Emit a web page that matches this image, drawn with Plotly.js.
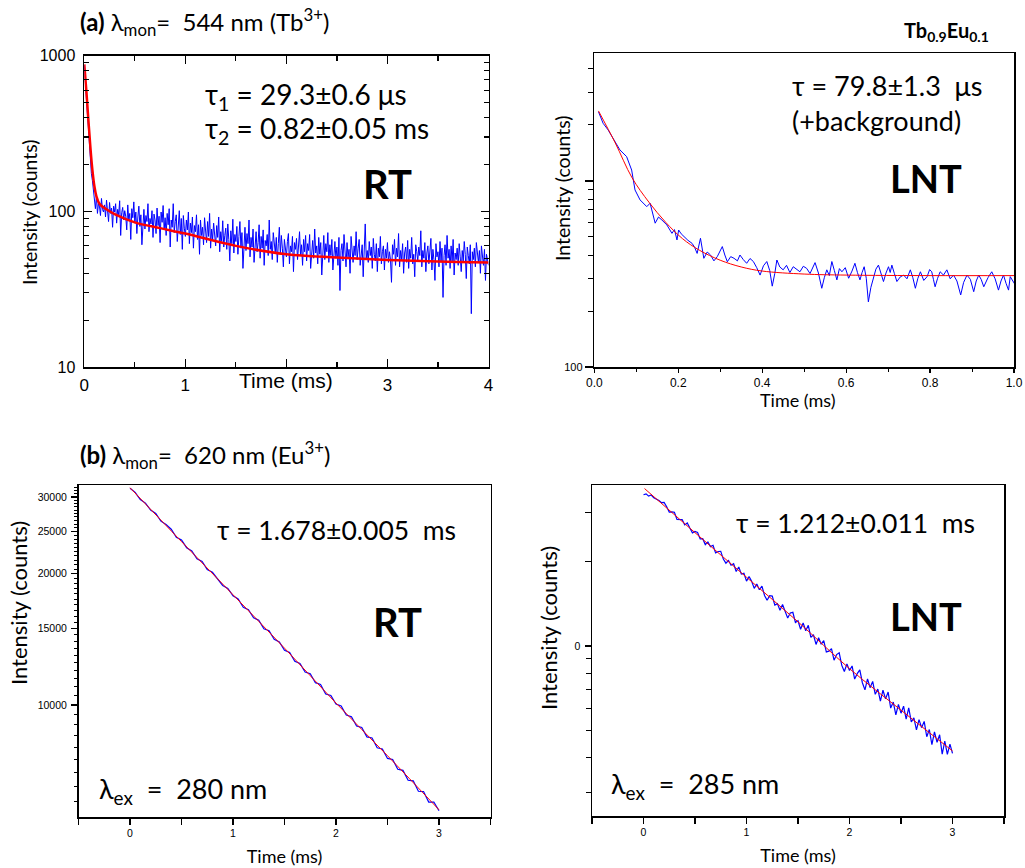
<!DOCTYPE html>
<html><head><meta charset="utf-8">
<script src="https://cdn.plot.ly/plotly-3.0.1.min.js"></script>
<style>body{margin:0;background:#fff}#chart{width:1025px;height:868px}</style>
</head><body><div id="chart"></div>
<script>
// ---------- DATA ----------
// (a) 544 nm, RT : blue decay sampled every 0.01 ms from t = 0
const A_t0 = 0, A_dt = 0.01;
const A_blue = [870,720,560,430,350,265,220,175,158,132,
118,104,126,97,112,108,94,121,103,99,
110,92,118,101,86,114,97,105,79,108,
99,112,84,103,95,117,70,98,106,88,
101,93,76,110,88,97,66,104,91,115,
84,99,72,92,108,80,95,61,89,103,
77,94,86,112,74,90,83,101,68,96,
88,72,105,81,93,63,99,85,109,76,
91,70,97,82,104,59,88,79,112,73,
86,95,64,83,101,71,90,57,94,78,
69,88,76,99,62,84,73,92,58,81,
74,95,66,82,53,88,70,79,61,91,
72,63,86,69,97,58,77,66,84,71,
60,81,68,92,55,74,64,87,59,70,
78,57,83,66,48,75,62,89,54,71,
64,80,53,69,86,58,73,43,67,79,
56,72,62,88,51,68,59,77,47,66,
74,55,63,82,50,69,58,76,45,65,
60,71,52,88,57,64,49,73,61,54,
68,47,62,79,53,70,58,44,66,59,
51,64,72,46,60,55,69,41,63,57,
67,49,58,74,52,61,45,66,55,70,
48,62,56,71,43,59,65,50,77,54,
60,46,68,53,63,39,57,70,49,62,
55,73,47,61,52,66,42,58,64,50,
59,45,68,31,56,62,48,71,53,44,
63,51,57,40,69,54,47,60,52,74,
49,58,66,45,55,61,38,57,83,50,
56,47,64,52,59,43,67,53,48,62,
41,58,51,69,46,55,60,42,57,50,
63,47,55,49,35,61,53,66,45,58,
51,72,44,56,49,62,40,54,59,47,
65,43,57,50,68,46,53,38,61,55,
48,59,52,75,44,56,50,63,41,54,
60,46,53,67,42,57,49,36,62,51,
55,44,64,48,58,28,52,61,45,70,
50,57,43,60,47,66,39,54,49,58,
45,62,51,41,56,48,64,53,37,59,
52,46,61,22,55,49,58,44,63,50,
47,56,40,60,51,45,57,36,53,48,
45];
const A_fit_t = [0,0.02,0.04,0.06,0.08,0.1,0.12,0.15,0.2,0.3,0.5,0.75,1,1.5,2,2.5,3,3.5,4];
const A_fit_v = [880,600,390,260,185,145,125,112,105,96,85,78,72,60,53,50.5,48.7,47.6,47];

// (a) LNT
const B_blue_t = [0.010,0.021,0.033,0.045,0.061,0.077,0.089,0.097,0.109,0.125,0.133,0.145,0.153,0.161,0.167,0.173,0.185,0.191,0.197,0.201,0.207,0.213,0.223,0.233,0.239,0.245,0.253,0.261,0.269,0.277,0.285,0.293,0.299,0.305,0.311,0.317,0.325,
0.333,0.341,0.347,0.355,0.363,0.371,0.379,0.387,0.395,0.403,0.411,0.418,0.424,0.430,0.435,0.442,0.450,0.458,0.466,0.474,0.482,0.490,0.498,0.506,0.514,0.520,0.526,0.534,0.542,0.548,0.554,0.560,0.566,0.572,0.578,0.584,0.590,0.598,0.606,0.614,0.621,0.627,0.633,0.638,0.643,0.648,0.653,0.659,0.665,0.671,0.677,0.683,0.689,0.695,0.701,0.705,0.709,0.715,0.721,0.729,0.737,0.745,0.753,0.759,0.765,0.771,0.777,0.785,0.793,0.799,0.804,0.808,0.812,0.818,0.824,0.832,0.840,0.848,0.856,0.864,0.873,0.880,0.888,0.896,0.904,0.910,0.916,0.922,0.928,0.938,0.947,0.955,0.963,0.969,0.975,0.981,0.987,0.991,0.997,1.003];
const B_blue_v = [2356,2042,1880,1695,1469,1352,1145,895,791,728,759,593,640,617,600,580,523,548,482,545,520,502,480,462,440,408,492,384,415,400,372,392,420,444,400,368,392,
384,372,400,378,361,383,369,342,312,350,369,330,272,318,376,345,333,352,322,346,336,325,348,339,318,341,364,320,265,302,333,310,369,330,294,338,325,342,300,328,361,322,294,322,346,300,224,268,306,336,353,318,288,320,346,322,353,318,288,305,312,298,333,302,265,300,325,292,306,334,325,296,270,300,325,312,333,298,312,290,244,285,312,296,254,290,312,295,270,302,325,298,259,290,312,282,259,306,290,276];
const B_fit_t = [0.01,0.05,0.09,0.13,0.17,0.21,0.25,0.3,0.35,0.4,0.5,0.6,0.8,1.0];
const B_fit_v = [2380,1600,1040,770,600,490,425,375,345,328,316,312,310,310];

// (b) 620 nm, RT : blue sampled every 0.05 ms from t = 0
const C_t0 = 0, C_dt = 0.05;
const C_blue = [31400,30750,29600,29050,28000,27500,26400,25950,25300,24250,23900,22950,22550,21650,21350,20450,20150,19400,18800,18500,17800,17500,16750,16550,15850,15650,14950,14800,14150,13950,13350,13200,12600,12450,11900,11800,11250,11150,10600,10520,10050,9950,9480,9400,8950,8880,8450,8400,7980,7930,7540,7500,7120,7080,6720,6700,6340,6330,5990,5990,5720];
const C_fit_t = [0,0.5,1,1.5,2,2.5,3];
const C_fit_v = [31500,23700,17900,13500,10100,7650,5750];

// (b) LNT : blue sampled every 0.025 ms from t = 0
const D_t0 = 0, D_dt = 0.025;
const D_blue = [34700,34950,34300,34600,33850,33550,33100,32500,32550,31430,
30090,30140,30040,28330,28240,28280,27080,27520,26370,25360,
25660,25450,24120,24170,23020,23530,22640,22900,21490,21750,
21770,20440,19760,20200,19440,19670,18460,19140,18060,18180,
17050,17690,17030,16060,16660,15880,16370,15150,14560,15120,
15070,14000,14170,13420,14070,13210,12580,13120,13190,12140,
12310,11480,12080,11340,11850,10740,10970,10130,10710,10150,
10460,9523,9583,9781,8896,9321,9457,8529,8108,8631,
8176,8486,7621,7966,8218,7393,6969,7625,7098,7476,
6720,7020,6360,6951,6474,6847,6004,6307,5681,6186,
5756,6096,5481,6007,5354,5537,5018,5459,5109,5380,
4741,5031,4440,4936,4527,4818,4106,4570,4101,4462,
4135];
const D_fit_t = [0.01,0.5,1.0,1.5,2.0,2.5,3.0];
const D_fit_v = [36500,25400,17600,12200,8300,5900,4220];

// tick labels
const A_xticks = [0,1,2,3,4], A_xticktext = ['0','1','','3','4'];
const A_yticks = [10,100,1000], A_yticktext = ['10','100','1000'];
const B_xticks = [0,0.2,0.4,0.6,0.8,1.0], B_xticktext = ['0.0','0.2','0.4','0.6','0.8','1.0'];
const B_yticks = [100,1000], B_yticktext = ['100',''];
const C_xticks = [0,1,2,3], C_xticktext = ['0','1','2','3'];
const C_yticks = [10000,15000,20000,25000,30000], C_yticktext = ['10000','15000','20000','25000','30000'];
const D_xticks = [0,1,2,3], D_xticktext = ['0','1','2','3'];
const D_yticks = [10000,20000,30000], D_yticktext = ['0','',''];

// ---------- BUILD ----------
const W = 1025, H = 868;
const times = (t0, dt, n) => Array.from({length:n}, (_, i) => +(t0 + i*dt).toFixed(4));
const ARIAL = '"Liberation Sans", Arial, sans-serif';
const CAL = 'Lato, "Open Sans", sans-serif';
const BLUE = '#0000ff', RED = '#ff0000';

function logMinor(lo, hi, steps){ const out=[]; for(let d=lo; d<hi; d*=10){ for(const s of steps){ const v=d*s; if(v>d && v<d*10) out.push(v);} } return out; }
function range(a,b,s){ const o=[]; for(let v=a; v<=b+1e-9; v+=s) o.push(+v.toFixed(4)); return o; }

const traces = [
  {x: times(A_t0, A_dt, A_blue.length), y: A_blue, xaxis:'x', yaxis:'y', mode:'lines', line:{color:BLUE, width:1}},
  {x: A_fit_t, y: A_fit_v, xaxis:'x', yaxis:'y', mode:'lines', line:{color:RED, width:2.5, shape:'spline'}},
  {x: B_blue_t, y: B_blue_v, xaxis:'x2', yaxis:'y2', mode:'lines', line:{color:BLUE, width:1}},
  {x: B_fit_t, y: B_fit_v, xaxis:'x2', yaxis:'y2', mode:'lines', line:{color:RED, width:1, shape:'spline'}},
  {x: times(C_t0, C_dt, C_blue.length), y: C_blue, xaxis:'x3', yaxis:'y3', mode:'lines', line:{color:BLUE, width:1.2}},
  {x: C_fit_t, y: C_fit_v, xaxis:'x3', yaxis:'y3', mode:'lines', line:{color:RED, width:1, shape:'spline'}},
  {x: times(D_t0, D_dt, D_blue.length), y: D_blue, xaxis:'x4', yaxis:'y4', mode:'lines', line:{color:BLUE, width:1.2}},
  {x: D_fit_t, y: D_fit_v, xaxis:'x4', yaxis:'y4', mode:'lines', line:{color:RED, width:1, shape:'spline'}}
];

const dx = (a,b) => [a/W, b/W];
const dy = (top,bottom) => [1-bottom/H, 1-top/H];
const base = {showgrid:false, zeroline:false, showline:true, linecolor:'#000', color:'#000', tickcolor:'#000', fixedrange:true, automargin:false};

const layout = {
  width: W, height: H, margin:{l:0,r:0,t:0,b:0}, paper_bgcolor:'#fff', plot_bgcolor:'#fff', showlegend:false,
  font:{family:ARIAL, color:'#000'},
  // panel A
  xaxis: Object.assign({}, base, {domain: dx(84.3,488.5), anchor:'y', range:[0,4], linewidth:1.8, mirror:'ticks',
    ticks:'inside', ticklen:8, tickwidth:1.5, tickmode:'array', tickvals:A_xticks, ticktext:A_xticktext,
    minor:{tickmode:'array', tickvals:[0.5,1.5,2.5,3.5], ticks:'inside', ticklen:5, tickwidth:1.2, tickcolor:'#000'},
    tickfont:{size:17, family:ARIAL}, ticklabelstandoff:2}),
  yaxis: Object.assign({}, base, {domain: dy(55.7,367), anchor:'x', type:'log', range:[1,3], linewidth:1.8, mirror:'ticks',
    ticks:'inside', ticklen:8, tickwidth:1.5, tickmode:'array', tickvals:A_yticks, ticktext:A_yticktext,
    minor:{tickmode:'array', tickvals:logMinor(10,1000,[2,3,4,5,6,7,8,9]), ticks:'inside', ticklen:5, tickwidth:1.2, tickcolor:'#000'},
    tickfont:{size:16, family:ARIAL}, ticklabelstandoff:4}),
  // panel B
  xaxis2: Object.assign({}, base, {domain: dx(594.3,1014), anchor:'y2', range:[0,1], linewidth:1.5, mirror:true,
    ticks:'outside', ticklen:4, tickwidth:1.2, tickmode:'array', tickvals:B_xticks, ticktext:B_xticktext,
    minor:{tickmode:'array', tickvals:[0.1,0.3,0.5,0.7,0.9], ticks:'outside', ticklen:3, tickwidth:1, tickcolor:'#000'},
    tickfont:{size:12, family:ARIAL}}),
  yaxis2: Object.assign({}, base, {domain: dy(53,367), anchor:'x2', type:'log', range:[2,3.688], linewidth:1.5, mirror:true,
    ticks:'outside', ticklen:8, tickwidth:1.2, tickmode:'array', tickvals:B_yticks, ticktext:B_yticktext,
    minor:{tickmode:'array', tickvals:[200,300,400,500,600,700,800,900,2000,3000,4000], ticks:'outside', ticklen:5, tickwidth:1, tickcolor:'#000'},
    tickfont:{size:11, family:ARIAL}}),
  // panel C
  xaxis3: Object.assign({}, base, {domain: dx(78.5,490.5), anchor:'y3', range:[-0.5,3.5], linewidth:1.5, mirror:true,
    ticks:'outside', ticklen:6, tickwidth:1.2, tickmode:'array', tickvals:C_xticks, ticktext:C_xticktext,
    minor:{tickmode:'array', tickvals:[-0.5,0.5,1.5,2.5,3.5], ticks:'outside', ticklen:6, tickwidth:1.2, tickcolor:'#000'},
    tickfont:{size:10.5, family:ARIAL},
    title:{text:'Time (ms)', font:{size:18, family:CAL}, standoff:12}}),
  yaxis3: Object.assign({}, base, {domain: dy(485,817), anchor:'x3', type:'log', range:[3.7431,4.5046], linewidth:1.5, mirror:true,
    ticks:'outside', ticklen:6, tickwidth:1.2, tickmode:'array', tickvals:C_yticks, ticktext:C_yticktext,
    minor:{tickmode:'array', tickvals:range(5500,32000,500).filter(v=>v%5000!==0), ticks:'outside', ticklen:3, tickwidth:1, tickcolor:'#000'},
    tickfont:{size:10.5, family:ARIAL}, ticklabelstandoff:2}),
  // panel D
  xaxis4: Object.assign({}, base, {domain: dx(592,1004), anchor:'y4', range:[-0.5,3.5], linewidth:1.5, mirror:true,
    ticks:'outside', ticklen:6, tickwidth:1.2, tickmode:'array', tickvals:D_xticks, ticktext:D_xticktext,
    minor:{tickmode:'array', tickvals:[-0.5,0.5,1.5,2.5,3.5], ticks:'outside', ticklen:6, tickwidth:1.2, tickcolor:'#000'},
    tickfont:{size:10.5, family:ARIAL},
    title:{text:'Time (ms)', font:{size:18, family:CAL}, standoff:12}}),
  yaxis4: Object.assign({}, base, {domain: dy(485,816), anchor:'x4', type:'log', range:[3.3929,4.575], linewidth:1.5, mirror:true,
    ticks:'outside', ticklen:6, tickwidth:1.2, tickmode:'array', tickvals:D_yticks, ticktext:D_yticktext,
    minor:{tickmode:'array', tickvals:[3000,4000,5000,6000,7000,8000,9000], ticks:'outside', ticklen:5, tickwidth:1, tickcolor:'#000'},
    tickfont:{size:10.5, family:ARIAL}, ticklabelstandoff:2}),
  annotations: []
};

function note(text, xpx, ypx, size, opts){
  layout.annotations.push(Object.assign({text:text, xref:'paper', yref:'paper', x:xpx/W, y:1-ypx/H,
    xanchor:'left', yanchor:'middle', showarrow:false, font:{family:CAL, size:size, color:'#000'}}, opts||{}));
}
const S = '\u00a0';
// axis titles placed where the reference draws them
note('Time (ms)', 286, 380, 21, {xanchor:'center', font:{family:ARIAL, size:21, color:'#000'}});
note('Intensity (counts)', 30, 212, 19.5, {xanchor:'center', textangle:-90});
note('Time (ms)', 797, 400, 18, {xanchor:'center'});
note('Intensity (counts)', 562, 188, 19.5, {xanchor:'center', textangle:-90});
note('Intensity (counts)', 18, 603, 22, {xanchor:'center', textangle:-90});
note('Intensity (counts)', 548, 628, 22, {xanchor:'center', textangle:-90});
// headers and labels
note('<b>(a)</b> λ<sub>mon</sub>=' + S + S + '544 nm (Tb<sup>3+</sup>)', 78, 22, 24);
note('<b>Tb<sub>0.9</sub>Eu<sub>0.1</sub></b>', 991, 32, 20, {xanchor:'right'});
note('τ<sub>1</sub> = 29.3±0.6 μs', 203, 96, 28);
note('τ<sub>2</sub> = 0.82±0.05 ms', 203, 130, 28);
note('<b>RT</b>', 361, 184, 40);
note('τ = 79.8±1.3' + S + S + 'μs', 790, 86, 27);
note('(+background)', 790, 120, 27);
note('<b>LNT</b>', 888, 178, 38);
note('<b>(b)</b> λ<sub>mon</sub>=' + S + S + '620 nm (Eu<sup>3+</sup>)', 78, 455, 24);
note('τ = 1.678±0.005' + S + S + 'ms', 215, 530, 26.5);
note('<b>RT</b>', 371, 622, 40);
note('λ<sub>ex</sub>' + S + S + '=' + S + S + '280 nm', 97, 790, 27);
note('τ = 1.212±0.011' + S + S + 'ms', 734, 523, 26.5);
note('<b>LNT</b>', 888, 616, 38);
note('λ<sub>ex</sub>' + S + S + '=' + S + S + '285 nm', 609, 785, 27);

Plotly.newPlot('chart', traces, layout, {displayModeBar:false, staticPlot:true});
</script></body></html>
